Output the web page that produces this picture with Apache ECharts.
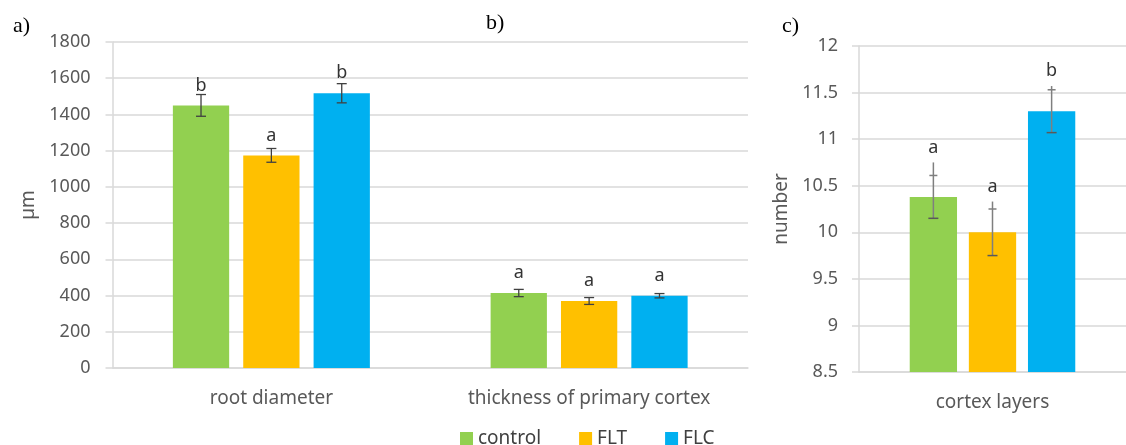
<!DOCTYPE html>
<html>
<head>
<meta charset="utf-8">
<script src="https://cdn.jsdelivr.net/npm/echarts@6/dist/echarts.min.js"></script>
<style>
html,body{margin:0;padding:0;background:#fff;}
#chart{width:1126px;height:445px;}
</style>
</head>
<body>
<div id="chart"></div>
<script>
// panels a) and b): one axis, two groups
var groupsAB = ['root diameter', 'thickness of primary cortex'];
var controlAB = [1450, 414];
var fltAB = [1174, 370];
var flcAB = [1517, 399];
var controlErrAB = [60, 20];
var fltErrAB = [38, 19];
var flcErrAB = [53, 12];
var controlSigAB = ['b', 'a'];
var fltSigAB = ['a', 'a'];
var flcSigAB = ['b', 'a'];

// panel c)
var groupsC = ['cortex layers'];
var controlC = [10.38];
var fltC = [10.0];
var flcC = [11.30];
var controlErrC = [0.23];
var fltErrC = [0.25];
var flcErrC = [0.23];
var controlTopC = [10.75];   // second (longer) error line, upper end
var fltTopC = [10.33];
var flcTopC = [11.57];
var controlSigC = ['a'];
var fltSigC = ['a'];
var flcSigC = ['b'];

var seriesNames = ['control', 'FLT', 'FLC'];
var colors = ['#92d050', '#ffc000', '#00b0f0'];
var txtColor = '#595959';
var lineColor = '#d9d9d9';
var font = 'Noto Sans';

var catGap = 0.38, barGap = 0.25;

// x offset of bar i (0..2) inside a band
function barOffset(band, i){
	var w = band * (1 - catGap) / (3 + 2 * barGap);
	return (i - 1) * w * (1 + barGap);
}

function errorSeries(idx, axisIdx, vals, errs, sigs, tops){
	var data = [];
	for(var k=0;k<vals.length;k++){
		data.push([k, vals[k], errs[k], tops ? tops[k] : null]);
	}
	return {
		type: 'custom',
		xAxisIndex: axisIdx,
		yAxisIndex: axisIdx,
		z: 5,
		silent: true,
		data: data,
		renderItem: function(params, api){
			var band = api.size([1, 0])[0];
			var c = api.coord([api.value(0), api.value(1)]);
			var x = c[0] + barOffset(band, idx);
			var lo = api.coord([api.value(0), api.value(1) - api.value(2)])[1];
			var hi = api.coord([api.value(0), api.value(1) + api.value(2)])[1];
			var k = params.dataIndex;
			var kids = [];
			var labelY;
			if(tops){
				var top = api.coord([api.value(0), api.value(3)])[1];
				kids.push({type:'line', shape:{x1:x, y1:top, x2:x, y2:lo}, style:{stroke:'#7f7f7f', lineWidth:1.5}});
				kids.push({type:'line', shape:{x1:x-4, y1:hi, x2:x+4, y2:hi}, style:{stroke:'#7f7f7f', lineWidth:1.5}});
				kids.push({type:'line', shape:{x1:x-5, y1:lo, x2:x+5, y2:lo}, style:{stroke:'#595959', lineWidth:1.5}});
				labelY = top - 15;
			} else {
				kids.push({type:'line', shape:{x1:x, y1:hi, x2:x, y2:lo}, style:{stroke:'#404040', lineWidth:1.3}});
				kids.push({type:'line', shape:{x1:x-5, y1:hi, x2:x+5, y2:hi}, style:{stroke:'#404040', lineWidth:1.3}});
				kids.push({type:'line', shape:{x1:x-5, y1:lo, x2:x+5, y2:lo}, style:{stroke:'#404040', lineWidth:1.3}});
				labelY = c[1] - 20;
			}
			kids.push({type:'text', style:{text:sigs[k], x:x, y:labelY, textAlign:'center', textVerticalAlign:'middle', fill:'#333', font:'18px "Noto Sans"'}});
			return {type:'group', children:kids};
		}
	};
}

function barSeries(idx, axisIdx, vals){
	return {
		name: seriesNames[idx],
		type: 'bar',
		xAxisIndex: axisIdx,
		yAxisIndex: axisIdx,
		data: vals,
		barGap: (barGap*100)+'%',
		barCategoryGap: (catGap*100)+'%',
		itemStyle: {color: colors[idx]}
	};
}

function yAxisBase(){
	return {
		type: 'value',
		nameLocation: 'middle',
		nameTextStyle: {fontSize:19, color:txtColor, fontFamily:font},
		axisLine: {show:true, lineStyle:{color:lineColor, width:1.5}},
		axisTick: {show:true, length:7, lineStyle:{color:lineColor, width:1.5}},
		axisLabel: {fontSize:18, color:txtColor, fontFamily:font, margin:22, formatter:function(v){ return String(v); }},
		splitLine: {lineStyle:{color:lineColor, width:1.5}}
	};
}

var yA = yAxisBase();
yA.min = 0; yA.max = 1800; yA.interval = 200;
yA.gridIndex = 0; yA.name = 'µm'; yA.nameGap = 67;
var yC = yAxisBase();
yC.min = 8.5; yC.max = 12; yC.interval = 0.5;
yC.gridIndex = 1; yC.name = 'number'; yC.nameGap = 68; yC.axisLabel.margin = 21;

function xAxisBase(grid, cats){
	return {
		type: 'category',
		gridIndex: grid,
		data: cats,
		axisLine: {show:true, lineStyle:{color:lineColor, width:1.5}},
		axisTick: {show:false},
		axisLabel: {fontSize:19, color:txtColor, fontFamily:font, margin:21}
	};
}

var chart = echarts.init(document.getElementById('chart'));
var option = {
	animation: false,
	backgroundColor: '#fff',
	title: [
		{text:'a)', left:8, top:10, textStyle:{fontFamily:'Liberation Serif', fontSize:22, fontWeight:'normal', color:'#000'}},
		{text:'b)', left:481, top:7, textStyle:{fontFamily:'Liberation Serif', fontSize:22, fontWeight:'normal', color:'#000'}},
		{text:'c)', left:777, top:10, textStyle:{fontFamily:'Liberation Serif', fontSize:22, fontWeight:'normal', color:'#000'}}
	],
	legend: {
		data: seriesNames,
		left: 455,
		top: 424,
		icon: 'rect',
		itemWidth: 13,
		itemHeight: 13,
		itemGap: 38,
		textStyle: {fontSize:19, color:'#404040', fontFamily:font}
	},
	grid: [
		{left:112.5, top:42, width:635.5, height:326},
		{left:859, top:46, width:276, height:326}
	],
	xAxis: [xAxisBase(0, groupsAB), xAxisBase(1, groupsC)],
	yAxis: [yA, yC],
	series: [
		barSeries(0, 0, controlAB),
		barSeries(1, 0, fltAB),
		barSeries(2, 0, flcAB),
		barSeries(0, 1, controlC),
		barSeries(1, 1, fltC),
		barSeries(2, 1, flcC),
		errorSeries(0, 0, controlAB, controlErrAB, controlSigAB),
		errorSeries(1, 0, fltAB, fltErrAB, fltSigAB),
		errorSeries(2, 0, flcAB, flcErrAB, flcSigAB),
		errorSeries(0, 1, controlC, controlErrC, controlSigC, controlTopC),
		errorSeries(1, 1, fltC, fltErrC, fltSigC, fltTopC),
		errorSeries(2, 1, flcC, flcErrC, flcSigC, flcTopC)
	]
};
chart.setOption(option);
</script>
</body>
</html>
